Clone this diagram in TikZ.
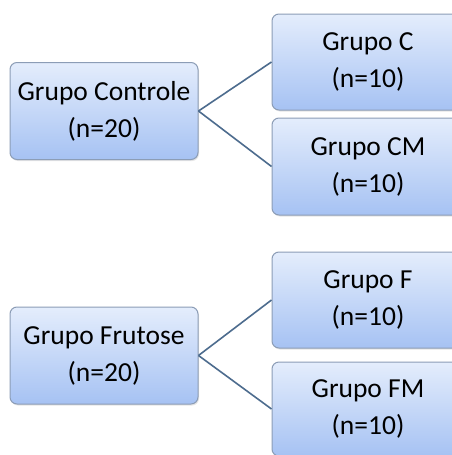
\documentclass[tikz,border=0pt]{standalone}
\usepackage{fontspec}
\setmainfont{Carlito}
\usepackage{tikz}
\usetikzlibrary{shadows}
\definecolor{boxtop}{HTML}{E4EDFC}
\definecolor{boxbot}{HTML}{A6C2F3}
\definecolor{boxline}{HTML}{8C9DB6}
\definecolor{link}{HTML}{4D6C8E}

\begin{document}
\begin{tikzpicture}[x=1pt,y=-1pt,
    grupo/.style={rectangle,rounded corners=7pt,draw=boxline,line width=1pt,
      top color=boxtop,bottom color=boxbot,align=center,inner sep=0pt,
      font=\fontsize{27.5}{37}\selectfont,text=black,
      drop shadow={opacity=0.2,shadow xshift=1pt,shadow yshift=-1.5pt}},
    main/.style={grupo,minimum width=188pt,minimum height=97pt},
    sub/.style={grupo,minimum width=192pt,minimum height=96pt},
    ramo/.style={draw=link,line width=1.6pt}]
  \useasboundingbox[fill=white] (0,0) rectangle (452,455);
  \begin{scope}
  \clip (0,0) rectangle (452,455);
  % grupo controle
  \node[main] (ctrl) at (104,111) {Grupo Controle\\(n=20)};
  \node[sub] (gc) at (368,62) {Grupo C\\(n=10)};
  \node[sub,minimum height=97pt] (gcm) at (368,166.5) {Grupo CM\\(n=10)};
  \draw[ramo] (ctrl.east) -- (gc.west);
  \draw[ramo] (ctrl.east) -- (gcm.west);
  % grupo frutose
  \node[main] (frut) at (104,355.5) {Grupo Frutose\\(n=20)};
  \node[sub] (gf) at (368,300) {Grupo F\\(n=10)};
  \node[sub,minimum height=94pt] (gfm) at (368,409) {Grupo FM\\(n=10)};
  \draw[ramo] (frut.east) -- (gf.west);
  \draw[ramo] (frut.east) -- (gfm.west);
  \end{scope}
\end{tikzpicture}
\end{document}
